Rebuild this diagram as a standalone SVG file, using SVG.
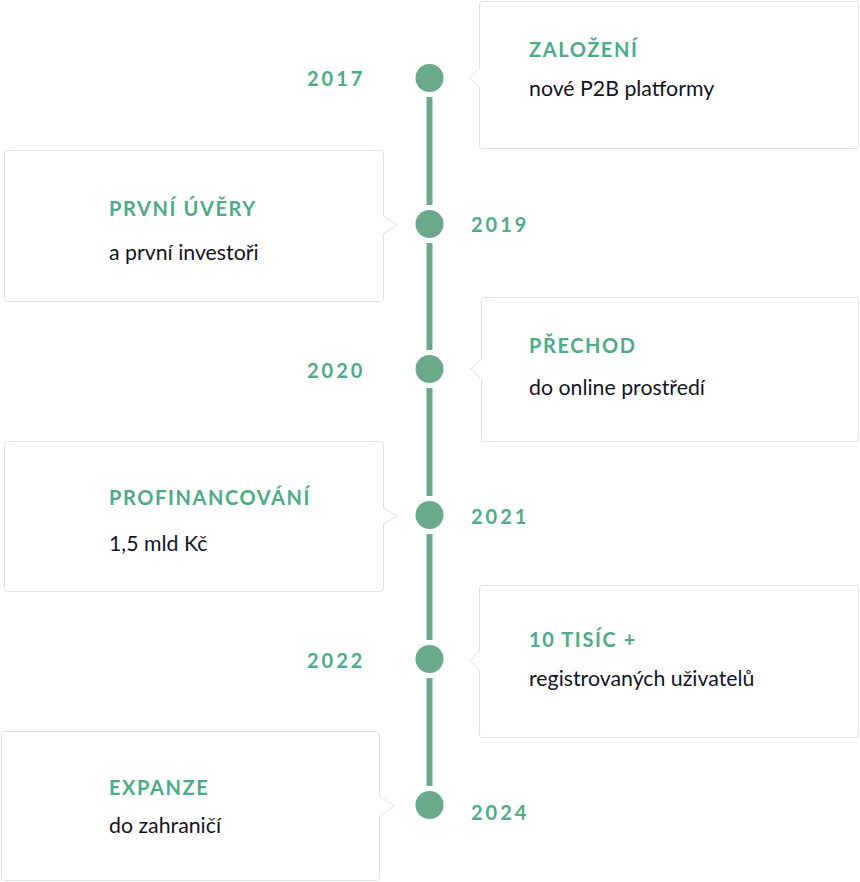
<svg xmlns="http://www.w3.org/2000/svg" width="860" height="882" viewBox="0 0 860 882">
<style>
.card{fill:#fff;stroke:#dde2e5;stroke-width:1}
.ptr{fill:#fff;stroke:none}
.ptrl{fill:none;stroke:#dde2e5;stroke-width:1}
.title{font-family:Lato,"Noto Sans",sans-serif;font-weight:700;font-size:20px;letter-spacing:1.6px;fill:#4dab88}
.sub{font-family:Lato,"Noto Sans",sans-serif;font-size:21.3px;fill:#14141e}
.year{font-family:Lato,"Noto Sans",sans-serif;font-weight:700;font-size:20px;letter-spacing:3px;fill:#4dab88}
.dot{fill:#6aa98c}
.line{stroke:#6aa98c;stroke-width:6}
</style>
<rect width="860" height="882" fill="#fff"/>
<g id="connectors">
<line class="line" x1="429.5" y1="97" x2="429.5" y2="205"/>
<line class="line" x1="429.5" y1="243" x2="429.5" y2="350"/>
<line class="line" x1="429.5" y1="388" x2="429.5" y2="496"/>
<line class="line" x1="429.5" y1="534" x2="429.5" y2="640"/>
<line class="line" x1="429.5" y1="678" x2="429.5" y2="786"/>
</g>
<g id="n2017">
<circle class="dot" cx="429.5" cy="78" r="14"/>
<text class="year" x="307" y="86">2017</text>
<rect class="card" x="479.5" y="1.5" width="379" height="147" rx="3"/>
<polygon class="ptr" points="481,68 479.5,68 470,78 479.5,88 481,88"/>
<polyline class="ptrl" points="479.5,68 470,78 479.5,88"/>
<text class="title" x="529" y="57">ZALOŽENÍ</text>
<text class="sub" x="529" y="96">nové P2B platformy</text>
</g>
<g id="n2019">
<circle class="dot" cx="429.5" cy="224" r="14"/>
<text class="year" x="471" y="232">2019</text>
<rect class="card" x="4.5" y="150.5" width="379" height="151" rx="3"/>
<polygon class="ptr" points="382,216 383.5,216 397,225 383.5,234 382,234"/>
<polyline class="ptrl" points="383.5,216 397,225 383.5,234"/>
<text class="title" x="109" y="216">PRVNÍ ÚVĚRY</text>
<text class="sub" x="109" y="260">a první investoři</text>
</g>
<g id="n2020">
<circle class="dot" cx="429.5" cy="369" r="14"/>
<text class="year" x="307" y="378">2020</text>
<rect class="card" x="481.5" y="297.5" width="377" height="144" rx="3"/>
<polygon class="ptr" points="483,359 481.5,359 471,369 481.5,379 483,379"/>
<polyline class="ptrl" points="481.5,359 471,369 481.5,379"/>
<text class="title" x="529" y="353">PŘECHOD</text>
<text class="sub" x="529" y="395">do online prostředí</text>
</g>
<g id="n2021">
<circle class="dot" cx="429.5" cy="515" r="14"/>
<text class="year" x="471" y="524">2021</text>
<rect class="card" x="4.5" y="441.5" width="379" height="150" rx="3"/>
<polygon class="ptr" points="382,508 383.5,508 397,516 383.5,524 382,524"/>
<polyline class="ptrl" points="383.5,508 397,516 383.5,524"/>
<text class="title" x="109" y="505">PROFINANCOVÁNÍ</text>
<text class="sub" x="109" y="551">1,5 mld Kč</text>
</g>
<g id="n2022">
<circle class="dot" cx="429.5" cy="659" r="14"/>
<text class="year" x="307" y="668">2022</text>
<rect class="card" x="479.5" y="585.5" width="379" height="152" rx="3"/>
<polygon class="ptr" points="481,651 479.5,651 470,661 479.5,671 481,671"/>
<polyline class="ptrl" points="479.5,651 470,661 479.5,671"/>
<text class="title" x="529" y="647">10 TISÍC +</text>
<text class="sub" x="529" y="686">registrovaných uživatelů</text>
</g>
<g id="n2024">
<circle class="dot" cx="429.5" cy="805" r="14"/>
<text class="year" x="471" y="820">2024</text>
<rect class="card" x="1.5" y="731.5" width="378" height="149" rx="3"/>
<polygon class="ptr" points="378,796 379.5,796 394,806 379.5,816 378,816"/>
<polyline class="ptrl" points="379.5,796 394,806 379.5,816"/>
<text class="title" x="109" y="795">EXPANZE</text>
<text class="sub" x="109" y="833">do zahraničí</text>
</g>
</svg>
